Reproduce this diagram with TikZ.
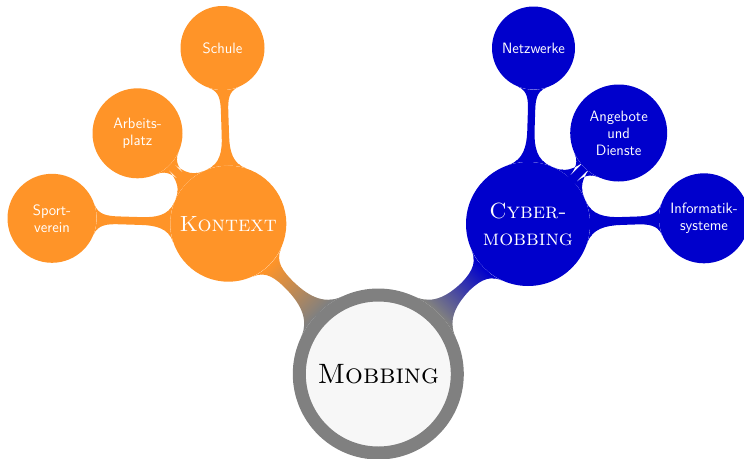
\documentclass[tikz,border=0pt]{standalone}
\usetikzlibrary{mindmap,backgrounds}
\definecolor{korange}{RGB}{255,148,40}
\definecolor{kblue}{RGB}{0,0,204}
\definecolor{kgray}{RGB}{128,128,128}
\definecolor{kroot}{RGB}{247,247,247}
\tikzset{
  rootbox/.style={circle, draw=kgray, line width=13pt, fill=kroot, minimum size=158pt,
    inner sep=0pt, text=black, font=\fontsize{28}{33}\selectfont\scshape},
  mainbox/.style={circle, fill=#1, text=white, inner sep=0pt, align=center,
    font=\fontsize{22}{27}\selectfont\scshape},
  leafbox/.style={circle, fill=#1, text=white, inner sep=0pt, align=center,
    font=\fontsize{15}{17}\selectfont\sffamily},
  mainbar/.style={circle connection bar switch color=from (kgray) to (#1)},
  leafbar/.style={circle connection bar switch color=from (#1) to (#1)}
}
\begin{document}
\begin{tikzpicture}[x=1pt,y=-1pt]
\useasboundingbox (0,0) rectangle (744,458);
\node[rootbox] (root) at (378.3,374) {Mobbing};
\node[mainbox=korange, minimum size=116pt] (kon) at (228.3,223.7) {Kontext};
\node[mainbox=kblue, minimum size=124pt] (cyb) at (528,224) {Cyber-\\mobbing};
\node[leafbox=korange, minimum size=84pt] (schule) at (222.5,48) {Schule};
\node[leafbox=korange, minimum size=90pt] (arbeit) at (137.5,133.3) {Arbeits-\\platz};
\node[leafbox=korange, minimum size=89pt] (sport) at (52,218.3) {Sport-\\verein};
\node[leafbox=kblue, minimum size=83pt] (netz) at (533.5,48) {Netzwerke};
\node[leafbox=kblue, minimum size=97pt] (angebote) at (618.7,133) {Angebote\\und\\Dienste};
\node[leafbox=kblue, minimum size=90pt] (info) at (704,218.3) {Informatik-\\systeme};
\begin{scope}[on background layer]
\path (root) to[mainbar=korange] (kon);
\path (root) to[mainbar=kblue] (cyb);
\path (kon) to[leafbar=korange] (schule);
\path (kon) to[leafbar=korange] (arbeit);
\path (kon) to[leafbar=korange] (sport);
\path (cyb) to[leafbar=kblue] (netz);
\path (cyb) to[leafbar=kblue] (angebote);
\path (cyb) to[leafbar=kblue] (info);
\end{scope}
\end{tikzpicture}
\end{document}
